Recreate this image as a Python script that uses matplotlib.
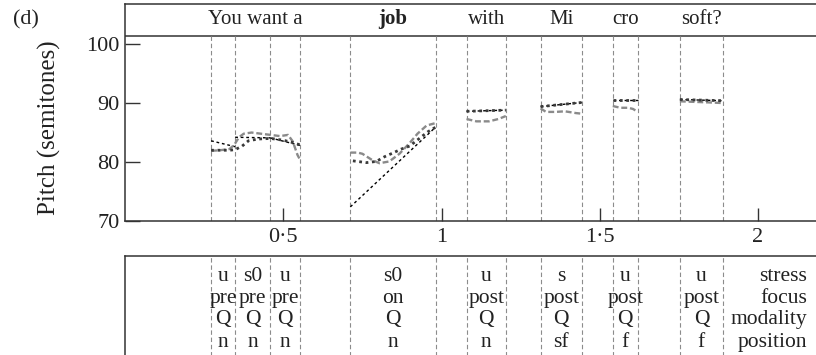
import matplotlib
matplotlib.use("Agg")
import matplotlib.pyplot as plt
from matplotlib.ticker import FixedLocator, FuncFormatter

plt.rcParams['font.family'] = ['Liberation Serif', 'DejaVu Serif']

# Syllable boundaries (s)
bounds = [0.272, 0.348, 0.459, 0.554, 0.712, 0.981, 1.079, 1.203,
          1.313, 1.443, 1.541, 1.620, 1.753, 1.889]

# Words shown above the contour, with their time spans
words = ["You want a", "job", "with", "Mi", "cro", "soft?"]
word_spans = [(0.272, 0.554), (0.712, 0.981), (1.079, 1.203),
              (1.313, 1.443), (1.541, 1.620), (1.753, 1.889)]
word_bold = [False, True, False, False, False, False]

# Syllable spans and their annotations
syl_spans = [(0.272, 0.348), (0.348, 0.459), (0.459, 0.554), (0.712, 0.981),
             (1.079, 1.203), (1.313, 1.443), (1.541, 1.620), (1.753, 1.889)]
stress = ["u", "s0", "u", "s0", "u", "s", "u", "u"]
focus = ["pre", "pre", "pre", "on", "post", "post", "post", "post"]
modality = ["Q", "Q", "Q", "Q", "Q", "Q", "Q", "Q"]
position = ["n", "n", "n", "n", "n", "sf", "f", "f"]
row_names = ["stress", "focus", "modality", "position"]

# Pitch targets (start, end) per syllable, semitones
target_start = [83.6, 84.2, 84.1, 72.4, 88.6, 89.4, 90.5, 90.6]
target_end = [82.6, 84.1, 82.8, 85.9, 88.8, 90.1, 90.5, 90.4]

# Observed F0 contours
obs_t = [
    [0.272, 0.30, 0.33, 0.345, 0.36, 0.375, 0.40, 0.43, 0.46, 0.49, 0.515,
     0.53, 0.545, 0.554],
    [0.712, 0.735, 0.750, 0.782, 0.804, 0.835, 0.867, 0.899, 0.924, 0.953,
     0.981],
    [1.079, 1.11, 1.15, 1.18, 1.203],
    [1.313, 1.33, 1.36, 1.39, 1.425, 1.443],
    [1.541, 1.565, 1.59, 1.605, 1.620],
    [1.753, 1.80, 1.85, 1.889],
]
obs_p = [
    [81.9, 82.0, 82.2, 82.9, 84.2, 84.8, 85.0, 84.8, 84.6, 84.4, 84.6,
     83.5, 81.2, 80.3],
    [81.6, 81.6, 81.4, 80.3, 79.8, 80.1, 81.4, 83.2, 84.8, 86.2, 86.6],
    [87.3, 86.9, 86.9, 87.3, 87.8],
    [89.1, 88.5, 88.5, 88.6, 88.3, 88.2],
    [89.5, 89.2, 89.2, 89.0, 88.5],
    [90.3, 90.2, 90.1, 90.0],
]

# Model-generated contours
model_t = [
    [0.272, 0.30, 0.33, 0.348, 0.37, 0.39, 0.42, 0.46, 0.50, 0.53, 0.554],
    [0.72, 0.734, 0.763, 0.794, 0.820, 0.845, 0.873, 0.899, 0.930, 0.956,
     0.981],
    [1.079, 1.203],
    [1.313, 1.443],
    [1.541, 1.620],
    [1.753, 1.889],
]
model_p = [
    [82.0, 82.0, 82.0, 82.1, 82.7, 83.6, 83.9, 84.0, 83.7, 83.3, 82.9],
    [80.2, 80.1, 79.9, 80.1, 80.9, 81.5, 82.2, 82.7, 84.0, 85.1, 85.9],
    [88.6, 88.8],
    [89.4, 90.1],
    [90.5, 90.5],
    [90.6, 90.4],
]

fig = plt.figure(figsize=(8.16, 3.55), dpi=100)

spine_col = "#333333"
text_col = "#222222"
grid_col = "#8c8c8c"

# ---- main pitch panel ----
ax = fig.add_axes([125 / 816, 1 - 221 / 355, 1 - 125 / 816 + 0.01, 217 / 355])
x_max = (816 + 8 - 126) / 316
ax.set_xlim(0, x_max)
ax.set_ylim(70, 106.8)
header_y = 101.36

ax.spines["right"].set_visible(False)
for s in ["left", "top", "bottom"]:
    ax.spines[s].set_color(spine_col)
    ax.spines[s].set_linewidth(1.1)
ax.axhline(header_y, color=spine_col, lw=1.1)

ax.yaxis.set_major_locator(FixedLocator([70, 80, 90, 100]))
ax.xaxis.set_major_locator(FixedLocator([0.5, 1, 1.5, 2]))
ax.xaxis.set_major_formatter(FuncFormatter(
    lambda v, p: ("%g" % v).replace(".", "\u00b7")))
ax.tick_params(axis="y", direction="in", length=10.5, width=1.0,
               color=spine_col, labelsize=16, pad=4, labelcolor=text_col)
ax.tick_params(axis="x", direction="in", length=9.5, width=1.0,
               color=spine_col, labelsize=16, pad=5, labelcolor=text_col)
ax.set_ylabel("Pitch (semitones)", fontsize=18, color=text_col)
ax.yaxis.set_label_coords(-0.092, 0.43)

frac = (header_y - 70) / (106.8 - 70)
for b in bounds:
    ax.axvline(b, ymin=0, ymax=frac, color=grid_col, lw=0.8,
               linestyle=(0, (4, 2.5)))

for (t0, t1), p0, p1 in zip(syl_spans, target_start, target_end):
    ax.plot([t0, t1], [p0, p1], color="black", lw=1.0,
            linestyle=(0, (2, 2)))

for t, p in zip(obs_t, obs_p):
    ax.plot(t, p, color="#8a8a8a", lw=1.7, linestyle=(0, (2.5, 1.2)))

for t, p in zip(model_t, model_p):
    ax.plot(t, p, color="#3a3a3a", lw=2.0, linestyle=(0, (1, 1.3)))

for w, (t0, t1), bold in zip(words, word_spans, word_bold):
    ax.text((t0 + t1) / 2, (header_y + 106.8) / 2 + 0.1, w, ha="center",
            va="center", fontsize=15, color=text_col,
            fontweight="bold" if bold else "normal")

fig.text(13 / 816, 1 - 10 / 355, "(d)", fontsize=16, ha="left", va="top",
         color=text_col)

# ---- annotation panel ----
lx = fig.add_axes([125 / 816, -0.01, 1 - 125 / 816 + 0.01,
                   (355 - 256) / 355 + 0.01])
lx.set_xlim(0, x_max)
lx.set_ylim(0, 1)
for s in ["right", "bottom"]:
    lx.spines[s].set_visible(False)
for s in ["left", "top"]:
    lx.spines[s].set_color(spine_col)
    lx.spines[s].set_linewidth(1.1)
lx.set_xticks([])
lx.set_yticks([])
for b in bounds:
    lx.axvline(b, color=grid_col, lw=0.8, linestyle=(0, (4, 2.5)))

row_y = [0.76, 0.545, 0.335, 0.11]
for (t0, t1), a, b, c, d in zip(syl_spans, stress, focus, modality, position):
    xc = (t0 + t1) / 2
    for yy, txt in zip(row_y, [a, b, c, d]):
        lx.text(xc, yy, txt, ha="center", va="baseline", fontsize=15.5,
                color=text_col)
for yy, txt in zip(row_y, row_names):
    lx.text((807 - 126) / 316, yy, txt, ha="right", va="baseline",
            fontsize=15.5, color=text_col)

fig.savefig("out.png", dpi=100)
